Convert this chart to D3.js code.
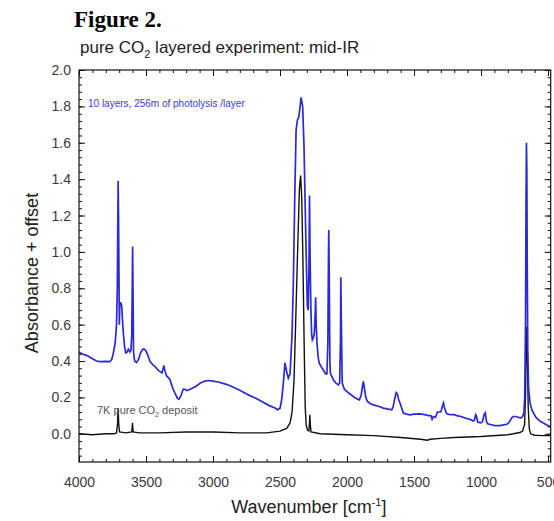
<!DOCTYPE html>
<html>
<head>
<meta charset="utf-8">
<script src="https://cdn.jsdelivr.net/npm/d3@7"></script>
<style>
body { margin: 0; background: #fff; }
svg { font-family: Arial, "Liberation Sans", sans-serif; }
.tick text { fill: #3a3a3a; font-size: 14px; }
</style>
</head>
<body>
<script>
// blue trace: 10 layers, photolysed (offset)
var layerWn = [4000,3980,3940,3905,3870,3843,3800,3769,3755,3744,3730,3720,3714,3710,3708,3705,3702,3699,3695,3688,3681,3675,3669,3660,3651,3640,3632,3620,3612,3606,3602,3600,3597,3593,3585,3570,3555,3540,3525,3515,3500,3485,3470,3450,3433,3410,3395,3380,3372,3366,3360,3346,3335,3321,3300,3284,3265,3255,3239,3222,3210,3196,3170,3130,3097,3060,3035,3000,2960,2900,2860,2800,2736,2680,2636,2580,2537,2520,2500,2487,2475,2463,2450,2438,2425,2410,2400,2390,2380,2370,2360,2350,2343,2336,2331,2321,2306,2296,2290,2284,2280,2276,2270,2264,2259,2250,2244,2238,2234,2230,2224,2215,2207,2190,2177,2160,2150,2143,2138,2136,2133,2128,2124,2110,2102,2085,2065,2055,2049,2046,2042,2036,2020,2002,1980,1953,1925,1908,1895,1885,1878,1870,1860,1848,1825,1803,1760,1729,1700,1666,1655,1645,1633,1625,1615,1600,1580,1555,1530,1500,1455,1420,1390,1373,1365,1356,1340,1325,1300,1285,1280,1272,1256,1230,1200,1181,1150,1110,1082,1060,1050,1040,1035,1025,1003,990,975,968,960,951,920,898,860,820,800,780,771,760,740,720,700,690,680,674,668,664,661,658,655,651,645,634,620,609,590,560,535,500,480];
var layerAbs = [0.45,0.44,0.43,0.415,0.40,0.397,0.398,0.397,0.41,0.443,0.5,0.6,0.8,1.2,1.39,1.2,0.9,0.6,0.72,0.72,0.70,0.62,0.55,0.48,0.445,0.45,0.465,0.45,0.46,0.55,0.85,1.03,0.8,0.45,0.40,0.392,0.41,0.447,0.465,0.467,0.455,0.43,0.397,0.38,0.37,0.35,0.342,0.335,0.36,0.375,0.35,0.318,0.31,0.297,0.25,0.224,0.195,0.19,0.21,0.246,0.245,0.238,0.245,0.26,0.278,0.29,0.293,0.29,0.285,0.272,0.26,0.24,0.214,0.195,0.178,0.155,0.142,0.132,0.14,0.19,0.28,0.39,0.34,0.306,0.33,0.55,0.85,1.3,1.67,1.725,1.74,1.8,1.85,1.82,1.80,1.58,1.03,0.70,0.68,0.9,1.31,1.0,0.7,0.55,0.516,0.53,0.553,0.65,0.75,0.6,0.498,0.42,0.388,0.365,0.352,0.33,0.33,0.5,1.0,1.12,0.9,0.4,0.333,0.31,0.297,0.28,0.269,0.28,0.5,0.86,0.6,0.28,0.245,0.233,0.22,0.205,0.192,0.187,0.21,0.26,0.288,0.25,0.2,0.178,0.165,0.159,0.15,0.141,0.137,0.132,0.15,0.19,0.227,0.22,0.19,0.16,0.114,0.108,0.104,0.108,0.11,0.105,0.1,0.1,0.08,0.095,0.09,0.12,0.12,0.16,0.17,0.14,0.11,0.105,0.105,0.1,0.095,0.085,0.08,0.07,0.075,0.105,0.1,0.065,0.06,0.065,0.11,0.115,0.07,0.055,0.05,0.045,0.045,0.05,0.055,0.075,0.088,0.095,0.095,0.09,0.088,0.095,0.115,0.2,0.6,1.3,1.6,1.45,0.9,0.45,0.25,0.17,0.13,0.115,0.09,0.07,0.06,0.045,0.04];

// black trace: 7K pure CO2 deposit
var depWn = [4000,3900,3800,3740,3720,3712,3708,3704,3698,3650,3606,3601,3596,3550,3400,3200,3000,2800,2600,2500,2450,2425,2410,2395,2380,2365,2355,2346,2338,2330,2320,2312,2305,2295,2284,2280,2277,2274,2268,2200,2000,1800,1600,1450,1400,1380,1300,1200,1000,800,710,690,675,668,662,658,654,648,640,630,600,535,480];
var depAbs = [0.0,-0.005,0.0,0.0,0.005,0.06,0.14,0.06,0.01,0.005,0.01,0.06,0.01,0.005,0.005,0.01,0.01,0.005,0.005,0.015,0.03,0.06,0.12,0.3,0.7,1.1,1.35,1.42,1.3,1.0,0.5,0.15,0.05,0.02,0.015,0.06,0.104,0.05,0.01,0.0,-0.005,-0.01,-0.02,-0.03,-0.035,-0.03,-0.025,-0.02,-0.015,-0.005,0.007,0.015,0.05,0.2,0.5,0.59,0.45,0.15,0.03,0.0,-0.008,-0.01,-0.01];

var xMajor = [4000,3500,3000,2500,2000,1500,1000,500];
var yMajor = [0.0,0.2,0.4,0.6,0.8,1.0,1.2,1.4,1.6,1.8,2.0];

var margin = {top: 70, left: 79},
	width = 471.7,
	height = 392;

var x = d3.scaleLinear().domain([4000, 480]).range([0, width]),
	y = d3.scaleLinear().domain([-0.155, 2.0]).range([height, 0]);

var xMinor = d3.range(4000, 479, -100),
	yMinor = d3.range(-0.12, 2.001, 0.04);

var svg = d3.select('body').append('svg')
	.attr('width', 554)
	.attr('height', 521);

var g = svg.append('g')
	.attr('transform', 'translate(' + margin.left + ',' + margin.top + ')');

g.append('clipPath').attr('id', 'clip')
	.append('rect').attr('width', width).attr('height', height);

function spectrum(wn, ab) {
	return wn.map(function(w, i) { return {wn: w, a: ab[i]}; });
}

var line = d3.line()
	.x(function(d) { return x(d.wn); })
	.y(function(d) { return y(d.a); });

g.append('path')
	.datum(spectrum(depWn, depAbs))
	.attr('clip-path', 'url(#clip)')
	.attr('d', line)
	.style('fill', 'none')
	.style('stroke', '#111')
	.style('stroke-width', 1.4);

g.append('path')
	.datum(spectrum(layerWn, layerAbs))
	.attr('clip-path', 'url(#clip)')
	.attr('d', line)
	.style('fill', 'none')
	.style('stroke', '#2a2ad6')
	.style('stroke-width', 1.7);

// ticks on all four sides, pointing inward
function ticks(axis, vals, size, labels) {
	return axis.tickValues(vals).tickSize(-size).tickFormat(labels ? null : '');
}

g.append('g').attr('transform', 'translate(0,' + height + ')')
	.call(ticks(d3.axisBottom(x), xMinor, 3, false));
g.append('g').attr('transform', 'translate(0,' + height + ')')
	.call(ticks(d3.axisBottom(x), xMajor, 6, true).tickFormat(d3.format('d')).tickPadding(15));
g.append('g').call(ticks(d3.axisTop(x), xMinor, 3, false));
g.append('g').call(ticks(d3.axisTop(x), xMajor, 6, false));

g.append('g').call(ticks(d3.axisLeft(y), yMinor, 3, false));
g.append('g')
	.call(ticks(d3.axisLeft(y), yMajor, 6, true).tickFormat(d3.format('.1f')).tickPadding(8));
g.append('g').attr('transform', 'translate(' + width + ',0)')
	.call(ticks(d3.axisRight(y), yMinor, 3, false));
g.append('g').attr('transform', 'translate(' + width + ',0)')
	.call(ticks(d3.axisRight(y), yMajor, 6, false));

g.selectAll('.domain').remove();
g.selectAll('.tick line').style('stroke', '#111');

g.append('rect')
	.attr('width', width)
	.attr('height', height)
	.style('fill', 'none')
	.style('stroke', '#111')
	.style('stroke-width', 1.2);

// annotations
g.append('text')
	.attr('x', 9)
	.attr('y', 37)
	.style('font-size', '10px')
	.style('fill', '#3a3ad8')
	.text('10 layers, 256m of photolysis /layer');

var dep = g.append('text')
	.attr('x', 18)
	.attr('y', 344)
	.style('font-size', '11px')
	.style('fill', '#555');
dep.append('tspan').text('7K pure CO');
dep.append('tspan').attr('dy', 3).style('font-size', '7px').text('2');
dep.append('tspan').attr('dy', -3).text(' deposit');

// titles
svg.append('text')
	.attr('x', 74)
	.attr('y', 27)
	.style('font-family', '"Liberation Serif", "Times New Roman", serif')
	.style('font-weight', 'bold')
	.style('font-size', '23px')
	.text('Figure 2.');

var title = svg.append('text')
	.attr('x', 80)
	.attr('y', 53)
	.style('font-size', '17px')
	.style('fill', '#222');
title.append('tspan').text('pure CO');
title.append('tspan').attr('dy', 5).style('font-size', '11px').text('2');
title.append('tspan').attr('dy', -5).text(' layered experiment: mid-IR');

var xl = svg.append('text')
	.attr('x', margin.left + width / 2 - 6)
	.attr('y', 513)
	.attr('text-anchor', 'middle')
	.style('font-size', '18px')
	.style('fill', '#222');
xl.append('tspan').text('Wavenumber [cm');
xl.append('tspan').attr('dy', -7).style('font-size', '11px').text('-1');
xl.append('tspan').attr('dy', 7).text(']');

svg.append('text')
	.attr('transform', 'translate(38,273) rotate(-90)')
	.attr('text-anchor', 'middle')
	.style('font-size', '18px')
	.style('fill', '#222')
	.text('Absorbance + offset');
</script>
</body>
</html>
